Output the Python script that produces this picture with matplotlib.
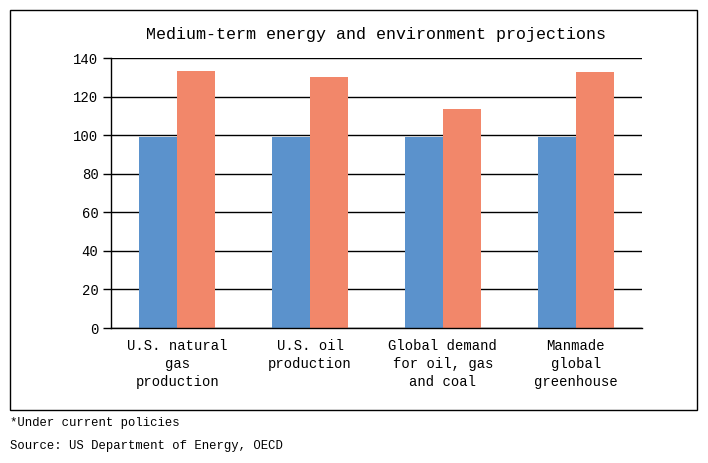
import matplotlib
matplotlib.use("Agg")
import matplotlib.pyplot as plt
import numpy as np
from matplotlib.patches import Rectangle

categories = ["U.S. natural\ngas\nproduction", "U.S. oil\nproduction",
              "Global demand\nfor oil, gas\nand coal", "Manmade\nglobal\ngreenhouse"]
current = [99, 99, 99, 99]
projected = [133.3, 130.1, 113.6, 132.7]
yticks = [0, 20, 40, 60, 80, 100, 120, 140]
title = "Medium-term energy and environment projections"
notes = ["*Under current policies", "Source: US Department of Energy, OECD"]

blue = "#5B92CC"
orange = "#F2876A"

plt.rcParams['font.family'] = ['Liberation Mono', 'DejaVu Sans Mono']

fig = plt.figure(figsize=(7.08, 4.63), dpi=100)
ax = fig.add_axes([111/708, 1-328/463, 531/708, 270/463])

x = np.arange(len(categories))
w = 0.286
ax.bar(x - w/2, current, width=w, color=blue, zorder=3)
ax.bar(x + w/2, projected, width=w, color=orange, zorder=3)

ax.set_xlim(-0.5, len(categories) - 0.5)
ax.set_ylim(0, 140)
ax.set_yticks(yticks)
ax.set_yticklabels([str(v) for v in yticks], fontsize=10)
ax.set_xticks(x)
ax.set_xticklabels(categories, fontsize=10, linespacing=1.38)
ax.tick_params(axis='x', length=0, pad=8)
ax.tick_params(axis='y', length=6, width=1, pad=3, direction='out')
ax.yaxis.grid(True, color='black', linewidth=1.0, zorder=1)
ax.set_axisbelow(True)
for s in ['top', 'right']:
    ax.spines[s].set_visible(False)
ax.spines['left'].set_linewidth(1.0)
ax.spines['bottom'].set_linewidth(1.0)
ax.spines['bottom'].set_zorder(4)

fig.text(376.5/708, 1-34/463, title, ha='center', va='center', fontsize=12)

fig.patches.append(Rectangle((10/708, 1-410/463), 687/708, 400/463,
                             transform=fig.transFigure, fill=False,
                             edgecolor='black', linewidth=1.0))

fig.text(10/708, 1-423/463, notes[0], ha='left', va='center', fontsize=8.8)
fig.text(10/708, 1-446/463, notes[1], ha='left', va='center', fontsize=8.8)

fig.savefig("out.png", dpi=100)
